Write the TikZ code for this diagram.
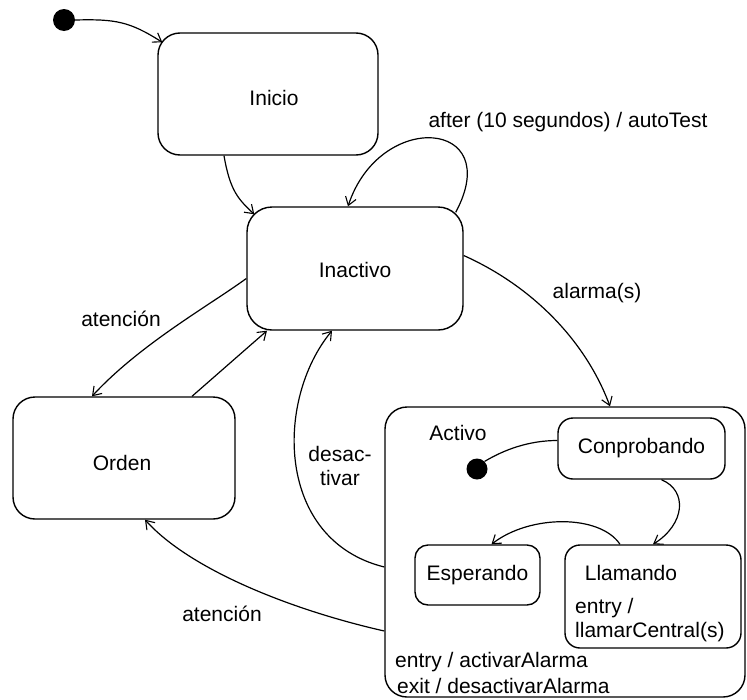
\documentclass[tikz,border=0pt]{standalone}
\usepackage{fontspec}
\setmainfont{Liberation Sans}
\usetikzlibrary{arrows.meta}
\begin{document}
\begin{tikzpicture}[x=1pt,y=-1pt,
  every node/.style={font=\fontsize{21}{24}\selectfont, inner sep=0pt},
  statebox/.style={draw, line width=1.4pt, rounded corners=#1},
  statebox/.default=22pt,
  trans/.style={line width=1.2pt, -{Straight Barb[length=8pt,width=11pt,line width=1.1pt]}},
  plainline/.style={line width=1.2pt},
  startdot/.style={circle, fill=black, minimum size=22pt, inner sep=0pt},
]
\useasboundingbox (0,0) rectangle (747,699);

% top-level states
\node[startdot] (init) at (64,20) {};
\node[statebox=22pt, minimum width=220pt, minimum height=122pt] (inicio) at (268,94) {};
\node (tinicio) at (274,98) {Inicio};
\node[statebox=25pt, minimum width=216pt, minimum height=123pt] (inactivo) at (355,268.5) {};
\node (tinactivo) at (355,270) {Inactivo};
\node[statebox=22pt, minimum width=222pt, minimum height=122pt] (orden) at (124,458) {};
\node (torden) at (122,463) {Orden};

% composite state Activo
\node[statebox=22pt, minimum width=360pt, minimum height=290pt] (activo) at (565,552) {};
\node (tactivo) at (458,433) {Activo};
\node[startdot, minimum size=21pt] (dot2) at (477,469) {};
\node[statebox=15pt, minimum width=167pt, minimum height=61pt] (conprobando) at (641.5,448.5) {Conprobando};
\node[statebox=13pt, minimum width=125pt, minimum height=60pt] (esperando) at (477.5,575) {Esperando};
\node[statebox=15pt, minimum width=176pt, minimum height=103pt] (llamando) at (653,596.5) {};
\node (tllamando) at (631,573) {Llamando};
\node[anchor=west] (llentry) at (575,608) {entry /};
\node[anchor=west] (llcall) at (575,632) {llamarCentral(s)};
\node[anchor=west] (acentry) at (395,662) {entry / activarAlarma};
\node[anchor=west] (acexit) at (397,686) {exit / desactivarAlarma};

% transitions between top-level states
\draw[trans] (init.east) .. controls +(40,-1) and +(-33,-21) .. ([shift={(5,10)}]inicio.north west);
\draw[trans] ([shift={(-44,0)}]inicio.south) .. controls +(6,35) and +(-16,-15) .. ([shift={(8,8)}]inactivo.north west);
\draw[trans] ([shift={(-8,6)}]inactivo.north east) .. controls +(50,-93) and +(32,-97) .. ([shift={(-7,0)}]inactivo.north);
\draw[trans] ([shift={(0,-13)}]inactivo.east) .. controls +(67,30) and +(-25,-67) .. ([shift={(45,0)}]activo.north);
\draw[trans] ([shift={(0,10)}]inactivo.west) .. controls +(-37,27) and +(48,-52) .. ([shift={(-32,0)}]orden.north);
\draw[trans] ([shift={(68,0)}]orden.north) -- ([shift={(-88,0)}]inactivo.south);
\draw[trans] ([shift={(0,15)}]activo.west) .. controls +(-109,-27) and +(-57,69) .. ([shift={(-23,0)}]inactivo.south);
\draw[trans] ([shift={(0,79)}]activo.west) .. controls +(-93,-21) and +(45,50) .. ([shift={(21,0)}]orden.south);

% transitions inside Activo
\draw[plainline] (dot2.45) .. controls +(20,-12) and +(-28,0) .. ([shift={(0,-8)}]conprobando.west);
\draw[trans] ([shift={(20,0)}]conprobando.south) .. controls +(26.5,11) and +(32,-20) .. (llamando.north);
\draw[trans] ([shift={(-33,0)}]llamando.north) .. controls +(-20,-30) and +(38.5,-30) .. ([shift={(14,0)}]esperando.north);

% transition labels
\node (lafter) at (568,122) {after (10 segundos) / autoTest};
\node (lalarma) at (597,293) {alarma(s)};
\node (latencion) at (121,319) {atención};
\node[align=center] (ldesactivar) at (340,465.5) {desac-\\tivar};
\node (latencion2) at (222,614) {atención};
\end{tikzpicture}
\end{document}
